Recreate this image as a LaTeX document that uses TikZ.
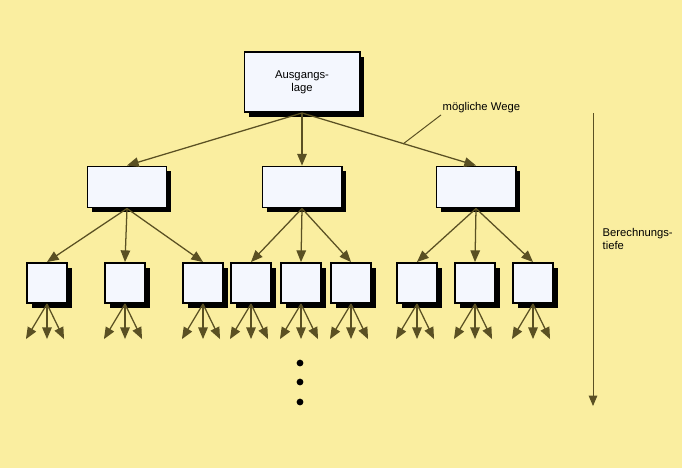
\documentclass[tikz,border=0pt]{standalone}
\usepackage{fontspec}
\setmainfont{Liberation Sans}
\usetikzlibrary{arrows}
\usetikzlibrary{shadows}

\definecolor{paper}{RGB}{250,238,160}
\definecolor{boxfill}{RGB}{244,247,254}
\definecolor{wire}{RGB}{90,80,35}

\begin{document}
\begin{tikzpicture}[x=0.025cm,y=-0.025cm,
		kasten/.style={draw=black,line width=1.4pt,fill=boxfill,inner sep=0pt,
			drop shadow={shadow xshift=3.5pt,shadow yshift=-3.5pt,fill=black,opacity=1}},
		weg/.style={draw=wire,line width=0.9pt,-triangle 45},
		notiz/.style={font=\footnotesize,inner sep=1pt,align=left}]
			\fill[paper] (0,0) rectangle (682,468);
			\useasboundingbox (0,0) rectangle (682,468);
			
			% start
			
			\node[kasten,minimum width=2.875cm,minimum height=1.5cm,font=\footnotesize,align=center] (A) at (302,82) {Ausgangs-\\lage};
			
			% first level
			
			\foreach \x [count=\i] in {127,302,476} {
				\node[kasten,minimum width=1.975cm,minimum height=1.025cm] (B\i) at (\x,187) {};
				\draw[weg] (A.south) -- (B\i.north);
			}
			
			% second level, each with three further ways
			
			\foreach \x [count=\i] in {47,125,203,251,301,351,417,475,533} {
				\pgfmathtruncatemacro{\p}{int((\i-1)/3)+1}
				\node[kasten,minimum width=1cm,minimum height=1cm] (C\i) at (\x,283) {};
				\draw[weg] (B\p.south) -- (C\i.north);
				\coordinate (E\i a) at (\x-21,339);
				\coordinate (E\i b) at (\x,339);
				\coordinate (E\i c) at (\x+17,339);
				\draw[weg] (C\i.south) -- (E\i a);
				\draw[weg] (C\i.south) -- (E\i b);
				\draw[weg] (C\i.south) -- (E\i c);
			}
			
			\foreach \y in {363,382,402} {
				\fill (300,\y) circle [radius=2.4pt];
			}
			
			% labels
			
			\node[notiz,anchor=west] (wege) at (441,108) {mögliche Wege};
			\coordinate (W) at (403,144);
			\draw[wire,line width=0.7pt] (wege.south west) -- (W);
			
			\coordinate (T0) at (593,113);
			\coordinate (T1) at (593,406);
			\draw[weg,line width=0.7pt] (T0) -- (T1);
			\node[notiz,anchor=west] (tiefe) at (601,239) {Berechnungs-\\tiefe};
			
		\end{tikzpicture}
\end{document}
